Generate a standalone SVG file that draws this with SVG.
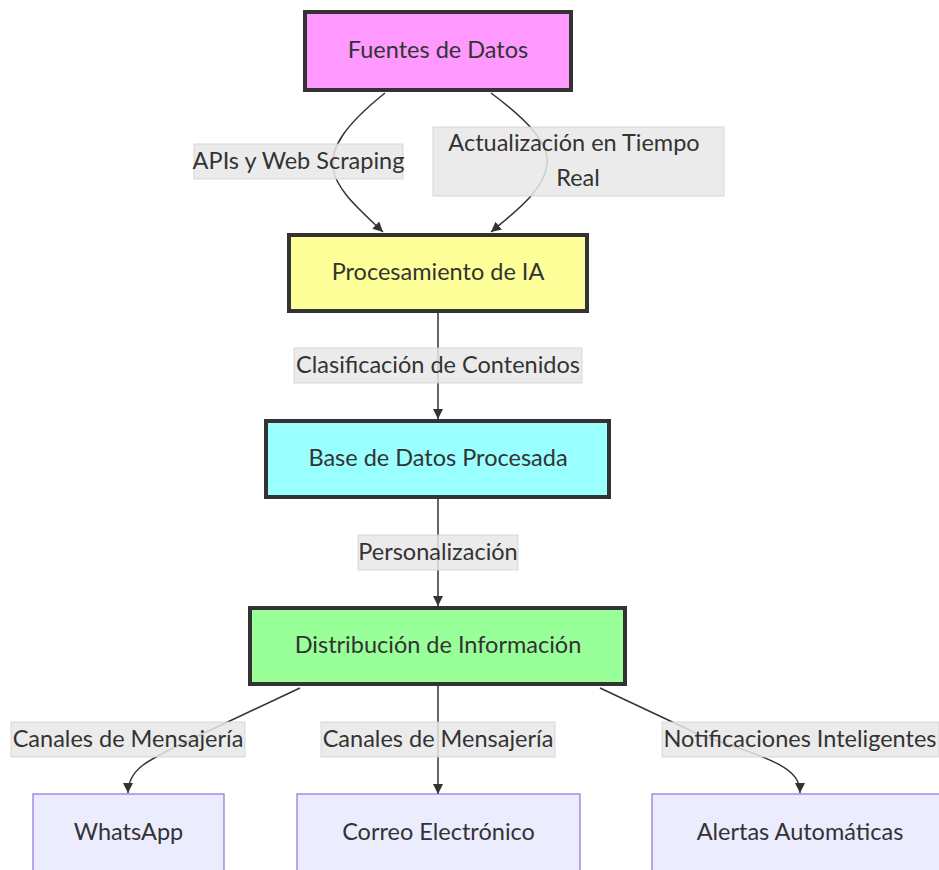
<svg xmlns="http://www.w3.org/2000/svg" width="939" height="870" viewBox="0 0 939 870">
  <defs>
    <marker id="arrow" viewBox="0 0 10 10" refX="10" refY="5" markerWidth="10" markerHeight="10" markerUnits="userSpaceOnUse" orient="auto">
      <path d="M0,0 L10,5 L0,10 z" fill="#333"/>
    </marker>
    <style>
      text { font-family: Lato, "DejaVu Sans", "Liberation Sans", sans-serif; font-size: 23.5px; fill: #333; text-anchor: middle; dominant-baseline: central; }
      .main { stroke: #333; stroke-width: 4; }
      .leaf { fill: #ECECFF; stroke: #9370DB; stroke-width: 1.2; }
      .edge { fill: none; stroke: #333; stroke-width: 1.5; marker-end: url(#arrow); }
      .lbl { fill: #e8e8e8; fill-opacity: 0.85; stroke: #d0d0d0; stroke-width: 0.8; }
    </style>
  </defs>
  <rect width="939" height="870" fill="#ffffff"/>

  <!-- connectors -->
  <g id="edges">
    <path class="edge" d="M385,93 C345,125 330,148 333,168 C336,190 360,210 383,232"/>
    <path class="edge" d="M491,93 C530,122 550,145 547,165 C544,190 515,212 491,232"/>
    <path class="edge" d="M438,313 L438,419"/>
    <path class="edge" d="M438,499 L438,606"/>
    <path class="edge" d="M300,688 L200,735 C148,760 128,768 128,793"/>
    <path class="edge" d="M438,686 L438,794"/>
    <path class="edge" d="M600,688 L700,735 C775,760 800,768 800,793"/>
  </g>

  <!-- edge labels -->
  <g id="edge-labels">
    <g id="lbl-apis">
      <rect class="lbl" x="194" y="144" width="209" height="35"/>
      <text x="298.5" y="159.5">APIs y Web Scraping</text>
    </g>
    <g id="lbl-tiempo">
      <rect class="lbl" x="433" y="127" width="291" height="69"/>
      <text x="574" y="142">Actualización en Tiempo</text>
      <text x="578" y="177">Real</text>
    </g>
    <g id="lbl-clasif">
      <rect class="lbl" x="294" y="348" width="288" height="35"/>
      <text x="438" y="363.5">Clasificación de Contenidos</text>
    </g>
    <g id="lbl-pers">
      <rect class="lbl" x="358" y="535" width="160" height="35"/>
      <text x="438" y="550.5">Personalización</text>
    </g>
    <g id="lbl-canales1">
      <rect class="lbl" x="11" y="722" width="234" height="35"/>
      <text x="128" y="737.5">Canales de Mensajería</text>
    </g>
    <g id="lbl-canales2">
      <rect class="lbl" x="321" y="722" width="234" height="35"/>
      <text x="438" y="737.5">Canales de Mensajería</text>
    </g>
    <g id="lbl-notif">
      <rect class="lbl" x="662" y="722" width="277" height="35"/>
      <text x="800" y="737.5">Notificaciones Inteligentes</text>
    </g>
  </g>

  <!-- nodes -->
  <g id="fuentes">
    <rect class="main" x="305" y="12" width="266" height="78" fill="#ff99ff"/>
    <text x="438" y="49">Fuentes de Datos</text>
  </g>
  <g id="procesamiento">
    <rect class="main" x="289" y="235" width="298" height="76" fill="#ffff99"/>
    <text x="438" y="271">Procesamiento de IA</text>
  </g>
  <g id="base">
    <rect class="main" x="266" y="421" width="343" height="76" fill="#99ffff"/>
    <text x="438" y="457">Base de Datos Procesada</text>
  </g>
  <g id="distribucion">
    <rect class="main" x="250" y="608" width="375" height="76" fill="#99ff99"/>
    <text x="438" y="644">Distribución de Información</text>
  </g>
  <g id="whatsapp">
    <rect class="leaf" x="33" y="794" width="191" height="90"/>
    <text x="128.5" y="831">WhatsApp</text>
  </g>
  <g id="correo">
    <rect class="leaf" x="297" y="794" width="283" height="90"/>
    <text x="438.5" y="831">Correo Electrónico</text>
  </g>
  <g id="alertas">
    <rect class="leaf" x="652" y="794" width="300" height="90"/>
    <text x="800" y="831">Alertas Automáticas</text>
  </g>
</svg>
